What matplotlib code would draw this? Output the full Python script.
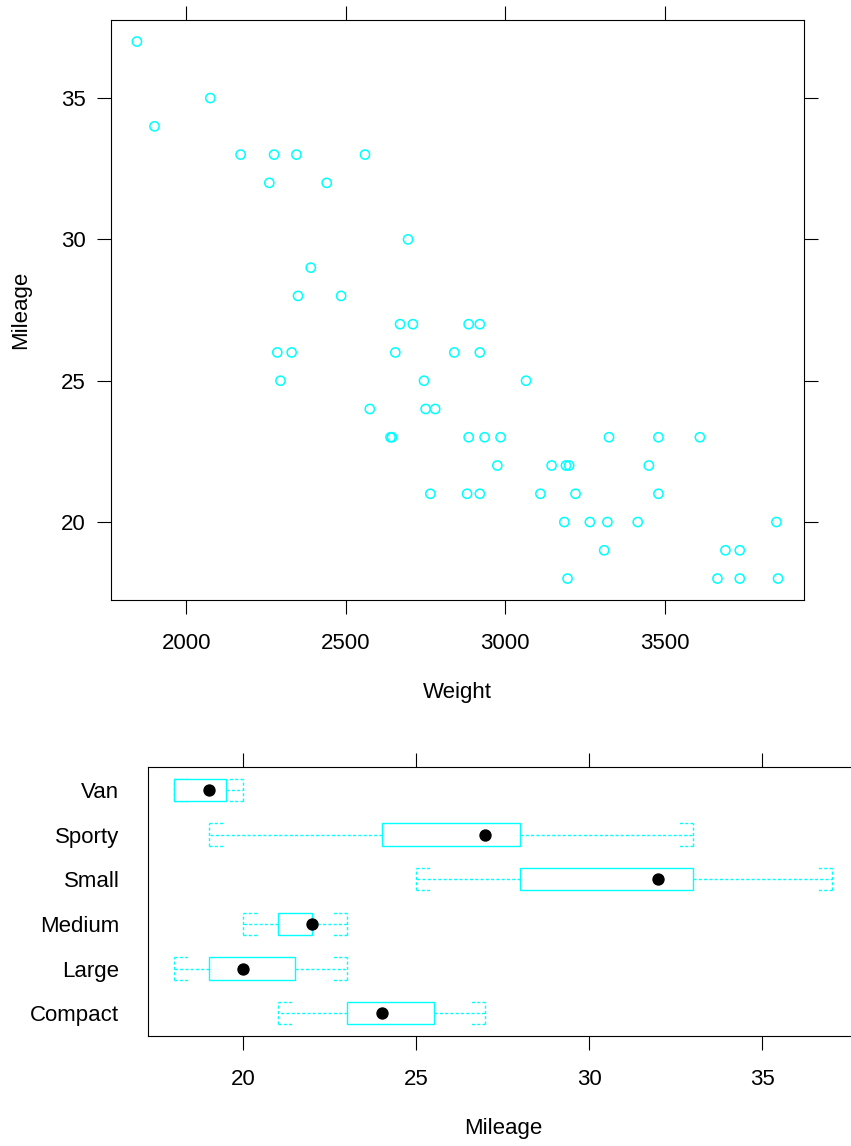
import numpy as np
import matplotlib
matplotlib.use('Agg')
import matplotlib.pyplot as plt
from matplotlib.patches import Rectangle

# car data (Weight vs Mileage)
weight = [1845, 2075, 1900,
          2170, 2275, 2345, 2560,
          2260, 2440,
          2695,
          2390,
          2350, 2485,
          2670, 2710, 2885, 2920,
          2285, 2330, 2655, 2840, 2920,
          2295, 2745, 3065,
          2575, 2750, 2780,
          2640, 2645, 2885, 2935, 2985, 3325, 3480, 3610,
          2975, 3145, 3190, 3200, 3450,
          2765, 2880, 2920, 3110, 3220, 3480,
          3185, 3265, 3320, 3415, 3850,
          3310, 3690, 3735,
          3195, 3665, 3735, 3855]
mileage = [37, 35, 34,
           33, 33, 33, 33,
           32, 32,
           30,
           29,
           28, 28,
           27, 27, 27, 27,
           26, 26, 26, 26, 26,
           25, 25, 25,
           24, 24, 24,
           23, 23, 23, 23, 23, 23, 23, 23,
           22, 22, 22, 22, 22,
           21, 21, 21, 21, 21, 21,
           20, 20, 20, 20, 20,
           19, 19, 19,
           18, 18, 18, 18]

# five number summaries of Mileage by Type (bottom panel)
types = ['Compact', 'Large', 'Medium', 'Small', 'Sporty', 'Van']
box_min = [21, 18, 20, 25, 19, 18]
box_q1 = [23, 19, 21, 28, 24, 18]
box_med = [24, 20, 22, 32, 27, 19]
box_q3 = [25.5, 21.5, 22, 33, 28, 19.5]
box_max = [27, 23, 23, 37, 33, 20]

plt.rcParams['font.family'] = ['Liberation Sans', 'DejaVu Sans']
plt.rcParams['font.size'] = 16

CYAN = '#00FFFF'
DASH = (0, (2.2, 1.6))


def padded(lo, hi, f=0.04):
    d = (hi - lo) * f
    return lo - d, hi + d


fig = plt.figure(figsize=(8.51, 11.46), dpi=100)

# --- top panel: scatter
ax1 = fig.add_axes([0.1308, 0.4764, 0.8136, 0.5061])
ax1.scatter(weight, mileage, s=44, facecolors='none', edgecolors=CYAN, linewidths=1.1)
ax1.set_xlim(padded(min(weight), max(weight)))
ax1.set_ylim(padded(min(mileage), max(mileage)))
ax1.set_xticks([2000, 2500, 3000, 3500])
ax1.set_yticks([20, 25, 30, 35])
ax1.tick_params(direction='out', length=10, width=0.8, top=True, right=True,
                labeltop=False, labelright=False)
ax1.tick_params(axis='x', pad=14)
ax1.tick_params(axis='y', pad=8.6)
ax1.set_xlabel('Weight', labelpad=20)
ax1.set_ylabel('Mileage', labelpad=21)
for sp in ax1.spines.values():
    sp.set_linewidth(0.8)

# --- bottom panel: box and whisker
ax2 = fig.add_axes([0.1736, 0.0960, 0.8344, 0.2345])
pos = np.arange(1, len(types) + 1)
half = 0.25
arm = 0.43
for i, p in enumerate(pos):
    # whiskers
    ax2.plot([box_q1[i], box_min[i]], [p, p], color=CYAN, lw=1, ls=DASH, zorder=1)
    ax2.plot([box_q3[i], box_max[i]], [p, p], color=CYAN, lw=1, ls=DASH, zorder=1)
    # bracket caps
    for end, sgn in ((box_min[i], 1), (box_max[i], -1)):
        ax2.plot([end, end], [p - half, p + half], color=CYAN, lw=1, ls=DASH, zorder=1)
        ax2.plot([end, end + sgn * arm], [p - half, p - half], color=CYAN, lw=1, ls=DASH, zorder=1)
        ax2.plot([end, end + sgn * arm], [p + half, p + half], color=CYAN, lw=1, ls=DASH, zorder=1)
    ax2.add_patch(Rectangle((box_q1[i], p - half), box_q3[i] - box_q1[i], 2 * half,
                            facecolor='white', edgecolor=CYAN, lw=1, zorder=2))
ax2.plot(box_med, pos, 'o', color='black', ms=7.9, zorder=3)

ax2.set_xlim(padded(min(box_min), max(box_max)))
ax2.set_ylim(0.4925, 6.5075)
ax2.set_xticks([20, 25, 30, 35])
ax2.set_yticks(pos)
ax2.set_yticklabels(types)
ax2.tick_params(axis='x', direction='out', length=10, width=0.8, top=True, pad=14)
ax2.tick_params(axis='y', length=0, pad=20.4)
ax2.set_xlabel('Mileage', labelpad=20)
for sp in ax2.spines.values():
    sp.set_linewidth(0.8)

fig.savefig('out.png', dpi=100)
